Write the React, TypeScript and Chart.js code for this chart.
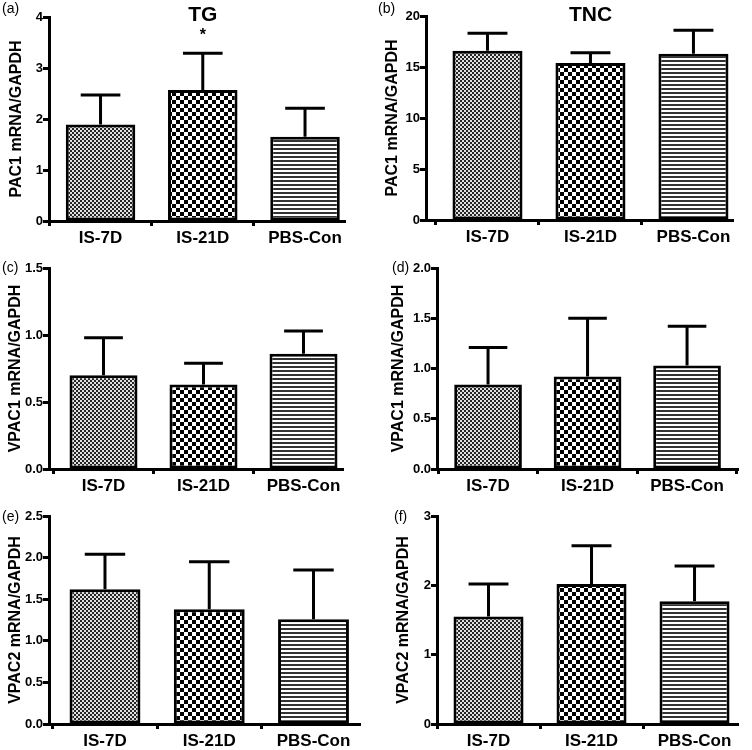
import React, { useEffect, useRef } from "react";
import { Chart, registerables } from "chart.js";

Chart.register(...registerables);

const FONT = "'Liberation Sans', Arial, Helvetica, sans-serif";

const categories = ["IS-7D", "IS-21D", "PBS-Con"];

// (a) TG PAC1
const tgPac1Mean = [1.89, 2.57, 1.65];
const tgPac1Sem = [0.58, 0.72, 0.56];
const tgPac1Sig = ["", "*", ""];
// (b) TNC PAC1
const tncPac1Mean = [16.6, 15.4, 16.3];
const tncPac1Sem = [1.7, 1.0, 2.3];
// (c) TG VPAC1
const tgVpac1Mean = [0.7, 0.63, 0.86];
const tgVpac1Sem = [0.28, 0.16, 0.17];
// (d) TNC VPAC1
const tncVpac1Mean = [0.84, 0.92, 1.03];
const tncVpac1Sem = [0.37, 0.58, 0.39];
// (e) TG VPAC2
const tgVpac2Mean = [1.62, 1.38, 1.26];
const tgVpac2Sem = [0.42, 0.57, 0.59];
// (f) TNC VPAC2
const tncVpac2Mean = [1.55, 2.02, 1.77];
const tncVpac2Sem = [0.47, 0.55, 0.51];

type PanelCfg = {
  letter: string;
  title: string;
  yLabel: string;
  mean: number[];
  sem: number[];
  sig?: string[];
  yMax: number;
  yStep: number;
  dec: number;
  left: number;
  top: number;
  area: { left: number; right: number; top: number; bottom: number };
  xMin: number;
  xMax: number;
  yLabelX: number;
  letterX: number;
  letterY: number;
};

const W = 376;
const H = 250;

const panels: PanelCfg[] = [
  {
    letter: "(a)", title: "TG", yLabel: "PAC1 mRNA/GAPDH",
    mean: tgPac1Mean, sem: tgPac1Sem, sig: tgPac1Sig,
    yMax: 4, yStep: 1, dec: 0, left: 0, top: 0,
    area: { left: 49, right: 345, top: 17, bottom: 221 },
    xMin: -0.504, xMax: 2.391, yLabelX: 17, letterX: 2, letterY: 9,
  },
  {
    letter: "(b)", title: "TNC", yLabel: "PAC1 mRNA/GAPDH",
    mean: tncPac1Mean, sem: tncPac1Sem,
    yMax: 20, yStep: 5, dec: 0, left: 376, top: 0,
    area: { left: 50, right: 357, top: 16, bottom: 220 },
    xMin: -0.597, xMax: 2.384, yLabelX: 17, letterX: 2, letterY: 9,
  },
  {
    letter: "(c)", title: "", yLabel: "VPAC1 mRNA/GAPDH",
    mean: tgVpac1Mean, sem: tgVpac1Sem,
    yMax: 1.5, yStep: 0.5, dec: 1, left: 0, top: 250,
    area: { left: 49, right: 343, top: 18, bottom: 219 },
    xMin: -0.545, xMax: 2.395, yLabelX: 16, letterX: 2, letterY: 18,
  },
  {
    letter: "(d)", title: "", yLabel: "VPAC1 mRNA/GAPDH",
    mean: tncVpac1Mean, sem: tncVpac1Sem,
    yMax: 2, yStep: 0.5, dec: 1, left: 376, top: 250,
    area: { left: 61, right: 362, top: 18, bottom: 219 },
    xMin: -0.513, xMax: 2.512, yLabelX: 22.5, letterX: 16, letterY: 18,
  },
  {
    letter: "(e)", title: "", yLabel: "VPAC2 mRNA/GAPDH",
    mean: tgVpac2Mean, sem: tgVpac2Sem,
    yMax: 2.5, yStep: 0.5, dec: 1, left: 0, top: 500,
    area: { left: 49, right: 360, top: 16, bottom: 224 },
    xMin: -0.537, xMax: 2.446, yLabelX: 16, letterX: 2, letterY: 17.5,
  },
  {
    letter: "(f)", title: "", yLabel: "VPAC2 mRNA/GAPDH",
    mean: tncVpac2Mean, sem: tncVpac2Sem,
    yMax: 3, yStep: 1, dec: 0, left: 376, top: 500,
    area: { left: 61, right: 362, top: 16, bottom: 224 },
    xMin: -0.5, xMax: 2.422, yLabelX: 28, letterX: 18, letterY: 17.5,
  },
];

function makePattern(kind: "fine" | "coarse" | "lines"): CanvasPattern | string {
  const c = document.createElement("canvas");
  const g = c.getContext("2d");
  if (!g) return "#888";
  if (kind === "fine") {
    c.width = 4; c.height = 4;
    g.fillStyle = "#e0e0e0"; g.fillRect(0, 0, 4, 4);
    g.fillStyle = "#262626"; g.fillRect(0, 0, 2, 2); g.fillRect(2, 2, 2, 2);
  } else if (kind === "coarse") {
    c.width = 8; c.height = 8;
    g.fillStyle = "#ffffff"; g.fillRect(0, 0, 8, 8);
    g.fillStyle = "#000000"; g.fillRect(0, 0, 4, 4); g.fillRect(4, 4, 4, 4);
  } else {
    c.width = 4; c.height = 4;
    g.fillStyle = "#ffffff"; g.fillRect(0, 0, 4, 4);
    g.fillStyle = "#333333"; g.fillRect(0, 0, 4, 2);
  }
  const pat = g.createPattern(c, "repeat");
  return pat || "#888";
}

function Panel({ p }: { p: PanelCfg }) {
  const ref = useRef<HTMLCanvasElement | null>(null);
  useEffect(() => {
    const canvas = ref.current;
    if (!canvas) return;
    const fills = [makePattern("fine"), makePattern("coarse"), makePattern("lines")];
    const overlay = {
      id: "overlay" + p.letter,
      afterDatasetsDraw(chart: any) {
        const ctx = chart.ctx as CanvasRenderingContext2D;
        const xs = chart.scales.x;
        const ys = chart.scales.y;
        const ca = chart.chartArea;
        const meta = chart.getDatasetMeta(0);
        ctx.save();
        ctx.strokeStyle = "#000";
        ctx.lineWidth = 3;
        ctx.lineCap = "butt";
        meta.data.forEach((bar: any, i: number) => {
          const top = ys.getPixelForValue(p.mean[i] + p.sem[i]);
          const x = bar.x;
          const hw = (bar.width * 0.57) / 2;
          ctx.beginPath();
          ctx.moveTo(x, bar.y);
          ctx.lineTo(x, top);
          ctx.moveTo(x - hw, top);
          ctx.lineTo(x + hw, top);
          ctx.stroke();
          if (p.sig && p.sig[i]) {
            ctx.fillStyle = "#000";
            ctx.font = `bold 16px ${FONT}`;
            ctx.textAlign = "center";
            ctx.textBaseline = "alphabetic";
            ctx.fillText(p.sig[i], x, top - 13);
          }
        });
        ctx.fillStyle = "#000";
        if (p.title) {
          ctx.font = `bold 21px ${FONT}`;
          ctx.textAlign = "center";
          ctx.textBaseline = "middle";
          ctx.fillText(p.title, xs.getPixelForValue(1), 15);
        }
        // y-axis title
        ctx.save();
        ctx.translate(p.yLabelX, (ca.top + ca.bottom) / 2);
        ctx.rotate(-Math.PI / 2);
        ctx.font = `bold 16px ${FONT}`;
        ctx.textAlign = "center";
        ctx.textBaseline = "middle";
        ctx.fillText(p.yLabel, 0, 0);
        ctx.restore();
        // panel letter
        ctx.font = `14px ${FONT}`;
        ctx.textAlign = "left";
        ctx.textBaseline = "middle";
        ctx.fillText(p.letter, p.letterX, p.letterY);
        ctx.restore();
      },
    };
    const chart = new Chart(canvas, {
      type: "bar",
      data: {
        datasets: [
          {
            data: p.mean.map((v, i) => ({ x: i, y: v })),
            backgroundColor: fills as any,
            borderColor: "#000",
            borderWidth: 3,
            borderSkipped: false,
            barPercentage: 0.68,
            categoryPercentage: 1,
          },
        ],
      },
      options: {
        animation: false,
        responsive: false,
        devicePixelRatio: 1,
        layout: {
          padding: { left: 0, top: p.area.top, right: W - p.area.right, bottom: 0 },
        },
        plugins: {
          legend: { display: false },
          tooltip: { enabled: false },
          title: { display: false },
        },
        scales: {
          x: {
            type: "linear",
            min: p.xMin,
            max: p.xMax,
            offset: false,
            grid: {
              display: true,
              drawOnChartArea: false,
              drawTicks: true,
              tickLength: 5,
              tickWidth: 3,
              tickColor: "#000",
            },
            border: { display: true, color: "#000", width: 3 },
            ticks: {
              stepSize: 1,
              includeBounds: false,
              autoSkip: false,
              maxRotation: 0,
              padding: 2,
              color: "#000",
              font: { family: FONT, size: 17, weight: "bold" },
              callback: (v: any) => {
                const n = Number(v);
                return Number.isInteger(n) && categories[n] ? categories[n] : "";
              },
            },
            afterFit: (s: any) => {
              s.height = H - p.area.bottom;
            },
          } as any,
          y: {
            min: 0,
            max: p.yMax,
            grid: {
              display: true,
              drawOnChartArea: false,
              drawTicks: true,
              tickLength: 6,
              tickWidth: 3,
              tickColor: "#000",
            },
            border: { display: true, color: "#000", width: 3 },
            ticks: {
              stepSize: p.yStep,
              padding: 0,
              color: "#000",
              font: { family: FONT, size: 13, weight: "bold" },
              callback: (v: any) => Number(v).toFixed(p.dec),
            },
            afterFit: (s: any) => {
              s.width = p.area.left;
            },
          } as any,
        },
      },
      plugins: [overlay],
    });
    return () => chart.destroy();
  }, [p]);
  return (
    <canvas
      ref={ref}
      width={W}
      height={H}
      style={{ position: "absolute", left: p.left, top: p.top, width: W, height: H }}
    />
  );
}

export default function App() {
  return (
    <div
      style={{
        position: "absolute",
        left: 0,
        top: 0,
        width: 752,
        height: 750,
        background: "#fff",
        overflow: "hidden",
      }}
    >
      {panels.map((p) => (
        <Panel key={p.letter} p={p} />
      ))}
    </div>
  );
}
